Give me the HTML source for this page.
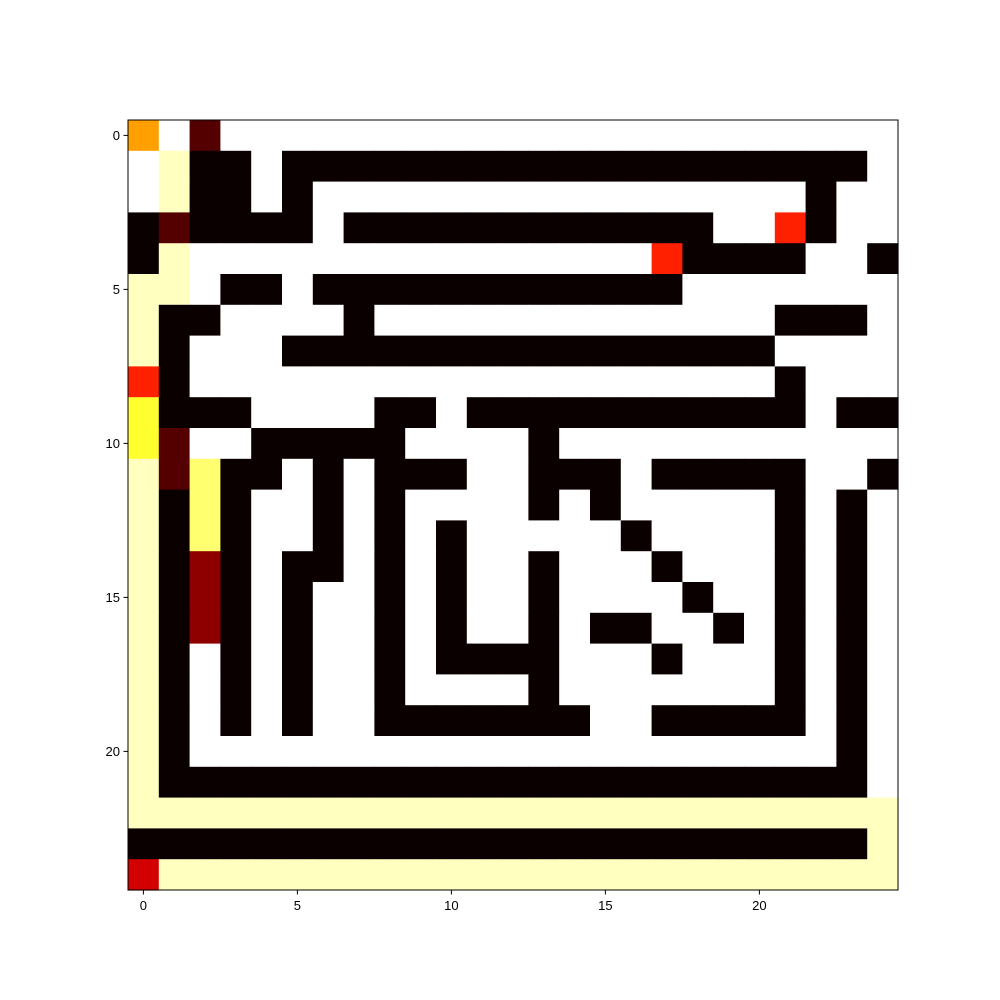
<!DOCTYPE html>
<html><head><meta charset="utf-8"><title>Maze heatmap</title>
<style>body{margin:0;background:#fff;}svg{display:block;font-family:"Liberation Sans",sans-serif;}</style>
</head><body>
<svg id="chart" width="1000" height="1000" viewBox="0 0 1000 1000"></svg>
<script>
const W24 = "W".repeat(24);
const rows = [
"OWD"+"W".repeat(22),
"WYBBW"+"B".repeat(19)+"W",
"WYBBWB"+"W".repeat(16)+"BWW",
"BDBBBBW"+"B".repeat(12)+"WWRBWW",
"BY"+"W".repeat(15)+"RBBBBWWB",
"YYWBBW"+"B".repeat(12)+"W".repeat(7),
"YBBWWWWB"+"W".repeat(13)+"BBBW",
"YBWWW"+"B".repeat(16)+"WWWW",
"RB"+"W".repeat(19)+"BWWW",
"LBBBWWWWBBW"+"B".repeat(11)+"WBB",
"LDWWBBBBBWWWWB"+"W".repeat(11),
"YDMBBWBWBBBWWBBBWBBBBBWWB",
"YBMBWWBWBWWWWBWBWWWWWBWBW",
"YBMBWWBWBWBWWWWWBWWWWBWBW",
"YBKBWBBWBWBWWBWWWBWWWBWBW",
"YBKBWBWWBWBWWBWWWWBWWBWBW",
"YBKBWBWWBWBWWBWBBWWBWBWBW",
"YBWBWBWWBWBBBBWWWBWWWBWBW",
"YBWBWBWWBWWWWBWWWWWWWBWBW",
"YBWBWBWWBBBBBBBWWBBBBBWBW",
"YB"+"W".repeat(21)+"BW",
"Y"+"B".repeat(23)+"W",
"Y".repeat(25),
"B".repeat(24)+"Y",
"C"+"Y".repeat(24)
];
const colorCodes = ["W","B","Y","O","D","R","L","M","K","C"];
const colorValues = ["#ffffff","#0b0000","#ffffbf","#ffa000","#550000","#ff2000","#ffff30","#ffff70","#8e0000","#d20000"];
const xTicks = [0,5,10,15,20];
const yTicks = [0,5,10,15,20];

const svg = document.getElementById('chart');
const NS = "http://www.w3.org/2000/svg";
const x0 = 128, y0 = 120, size = 770, n = 25, cell = size / n;
const xs = i => x0 + i * cell;
const ys = j => y0 + j * cell;
function mk(tag, attrs){const e=document.createElementNS(NS,tag);for(const k in attrs)e.setAttribute(k,attrs[k]);svg.appendChild(e);return e;}
rows.forEach((row, r) => {
  for (let c = 0; c < n; c++) {
    const col = colorValues[colorCodes.indexOf(row[c])];
    const e = mk('rect', {x: xs(c), y: ys(r), width: cell + 0.6, height: cell + 0.6, fill: col});
    
    
  }
});
const frame = mk('rect', {x: x0, y: y0, width: size, height: size, fill: 'none', stroke: '#000', 'stroke-width': 1});


xTicks.forEach(t => {
  const cx = xs(t + 0.5);
  const l = mk('line', {x1: cx, x2: cx, y1: y0 + size, y2: y0 + size + 4.5, stroke: '#000', 'stroke-width': 1});
  
  
  const tx = mk('text', {x: cx, y: y0 + size + 20, 'text-anchor': 'middle', 'font-size': 13, fill: '#000'});
  tx.textContent = t;
  
  
});
yTicks.forEach(t => {
  const cy = ys(t + 0.5);
  const l = mk('line', {x1: x0 - 4.5, x2: x0, y1: cy, y2: cy, stroke: '#000', 'stroke-width': 1});
  
  
  const tx = mk('text', {x: x0 - 8, y: cy + 4.5, 'text-anchor': 'end', 'font-size': 13, fill: '#000'});
  tx.textContent = t;
  
  
});
</script>
</body></html>
